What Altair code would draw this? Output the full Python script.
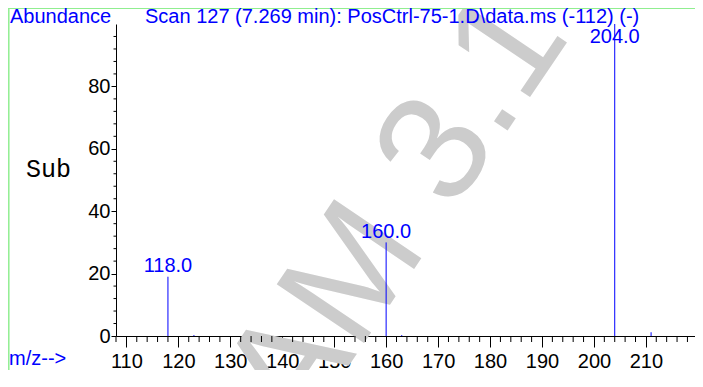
import altair as alt
import pandas as pd

# ---- data ----
MZ = [118, 123, 160, 163, 204, 211]
ABUNDANCE = [19, 0.3, 30, 0.3, 100, 1.2]
LABELED_MZ = [118, 160, 204]
LABELED_AB = [19, 30, 100]

X_MAJOR = [110, 120, 130, 140, 150, 160, 170, 180, 190, 200, 210]
X_MINOR = [v for v in range(108, 220, 2) if v % 10 != 0]
Y_MAJOR = [0, 20, 40, 60, 80]
Y_MINOR = [v for v in range(4, 101, 4) if v % 20 != 0]

TOP_LEFT = "Abundance"
TITLE = "Scan 127 (7.269 min): PosCtrl-75-1.D\\data.ms (-112) (-)"
SIDE = "Sub"
X_LABEL = "m/z-->"
WATERMARK = "AM 3.1"

BLUE = "#0000ff"
GREEN = "#90ee90"
FONT = "Liberation Sans"

peaks_df = pd.DataFrame({"mz": MZ, "ab": ABUNDANCE})
lab_df = pd.DataFrame({"mz": LABELED_MZ, "ab": LABELED_AB})
one = pd.DataFrame({"k": [0]})

W, H = 579, 312
xscale = alt.Scale(domain=[108, 108 + W / 5.195], nice=False, zero=False)
yscale = alt.Scale(domain=[0, 100], nice=False, zero=False)
xaxis = alt.Axis(values=X_MAJOR, tickSize=11, labelPadding=4, title=None,
                 grid=False, labelFlush=False, format="d")
yaxis = alt.Axis(values=Y_MAJOR, tickSize=5, labelPadding=1, title=None,
                 grid=False, labelFlush=False, format="d")


def X(f):
    return alt.X(f"{f}:Q", scale=xscale, axis=xaxis)


def Y(f):
    return alt.Y(f"{f}:Q", scale=yscale, axis=yaxis)


watermark = alt.Chart(one).mark_text(
    text=WATERMARK, angle=304, fontSize=153, color="#cccccc",
    align="left", baseline="alphabetic", font=FONT
).encode(x=alt.value(184), y=alt.value(414))

peaks = alt.Chart(peaks_df).mark_rule(color=BLUE, strokeWidth=1).encode(
    x=X("mz"), y=Y("ab"), y2=alt.datum(0)
)

labels = alt.Chart(lab_df).transform_calculate(
    ly="min(datum.ab, 92.5)"
).mark_text(
    dy=-4.5, align="center", baseline="alphabetic", fontSize=20,
    font=FONT, color=BLUE
).encode(x=X("mz"), y=Y("ly"), text=alt.Text("mz:Q", format=".1f"))

xminor = alt.Chart(pd.DataFrame({"mz": X_MINOR})).mark_rule(
    color="black", strokeWidth=1
).encode(x=X("mz"), y=alt.value(H), y2=alt.value(H + 6))

yminor = alt.Chart(pd.DataFrame({"ab": Y_MINOR})).mark_rule(
    color="black", strokeWidth=1
).encode(y=Y("ab"), x=alt.value(-2.5), x2=alt.value(0))


def txt(s, x, y, size=20, color=BLUE, font=FONT):
    return alt.Chart(one).mark_text(
        text=s, align="left", baseline="alphabetic", fontSize=size,
        color=color, font=font
    ).encode(x=alt.value(x), y=alt.value(y))


t_abund = txt(TOP_LEFT, -106, -1)
t_title = txt(TITLE, 29, -1)
t_side = txt(SIDE, -90, 153, size=25, color="black", font="Liberation Mono")
t_mz = txt(X_LABEL, -107, 341)

border_left = alt.Chart(one).mark_rule(color=GREEN, strokeWidth=1.5).encode(
    x=alt.value(-107.2), y=alt.value(-16), y2=alt.value(347))
border_bottom = alt.Chart(one).mark_rule(color=GREEN, strokeWidth=1.5).encode(
    x=alt.value(-108), x2=alt.value(W), y=alt.value(347))
border_top = alt.Chart(one).mark_rule(color=GREEN, strokeWidth=1).encode(
    x=alt.value(-108), x2=alt.value(W), y=alt.value(-15.5))

chart = alt.layer(
    watermark, border_left, border_bottom, border_top,
    xminor, yminor, peaks, labels, t_abund, t_title, t_side, t_mz
).properties(
    width=W, height=H,
    padding={"left": 108, "top": 16, "right": 0, "bottom": 34},
    autosize="none",
    background="white",
).configure_view(stroke=None).configure_axis(
    domainColor="black", tickColor="black", labelColor="black",
    labelFont=FONT, labelFontSize=20, domainWidth=1, tickWidth=1
)

chart.save("out.html", embed_options={"renderer": "svg", "actions": False})
